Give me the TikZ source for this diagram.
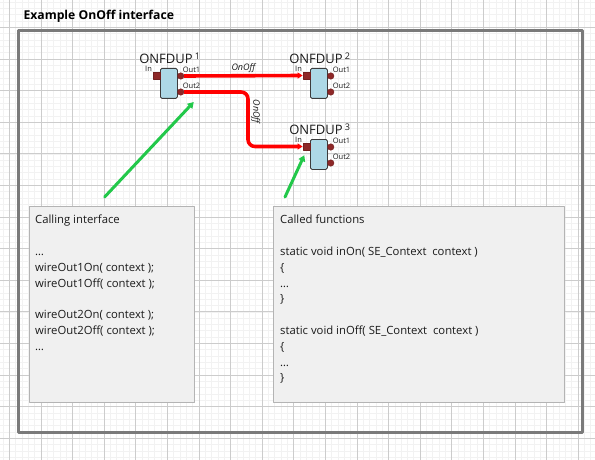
\documentclass[tikz,border=0pt]{standalone}
\usepackage{fontspec}
\setmainfont{Open Sans}
\usepackage{tikz}
\usetikzlibrary{arrows.meta,positioning}
\definecolor{ooGridMinor}{HTML}{F2F2F2}
\definecolor{ooGridMajor}{HTML}{CCCCCC}
\definecolor{ooFrame}{HTML}{7A7A7A}
\definecolor{ooPanel}{HTML}{F0F0F0}
\definecolor{ooPanelLine}{HTML}{B4B4B4}
\definecolor{ooBlock}{HTML}{ADD8E6}
\definecolor{ooBlockLine}{HTML}{3C3C3C}
\definecolor{ooPort}{HTML}{8E2828}
\definecolor{ooWire}{HTML}{FF0000}
\definecolor{ooHint}{HTML}{22C84A}
\definecolor{ooInk}{HTML}{1A1A1A}
\tikzset{
  oo diagram/.style={font=\fontsize{11.3}{15.8}\selectfont, text=ooInk,
    line join=round},
  oo grid minor/.style={draw=ooGridMinor, line width=0.6pt},
  oo grid major/.style={draw=ooGridMajor, line width=0.8pt},
  oo frame/.style={draw=ooFrame, line width=2.8pt, minimum width=564,
    minimum height=402, inner sep=0pt},
  oo title/.style={font=\fontsize{12.2}{14}\selectfont\bfseries, text=black},
  oo panel/.style={draw=ooPanelLine, fill=ooPanel, line width=1.2pt,
    minimum height=196, inner sep=0pt},
  oo panel text/.style={align=left, inner sep=0pt, anchor=north west},
  oo block/.style={draw=ooBlockLine, fill=ooBlock, line width=0.8pt,
    rounded corners=1.5pt, minimum width=17, minimum height=30, inner sep=0pt},
  oo inport/.style={draw=ooPort!80!black, fill=ooPort, line width=0.4pt,
    minimum size=7, inner sep=0pt},
  oo outport/.style={circle, draw=ooPort!80!black, fill=ooPort, line width=0.4pt,
    minimum size=6.5, inner sep=0pt},
  oo port label/.style={font=\fontsize{7.5}{8}\selectfont, inner sep=0.5pt},
  oo name/.style={font=\fontsize{13}{14}\selectfont, anchor=base, inner sep=0.5pt},
  oo wire/.style={-{Triangle[length=5pt,width=6pt]}, draw=ooWire,
    line width=3.6pt, rounded corners=7pt},
  oo wire label/.style={font=\fontsize{9}{10}\selectfont\itshape, inner sep=1.5pt},
  oo hint/.style={-{Triangle[length=6pt,width=7pt]}, draw=ooHint,
    line width=3pt, line cap=round}
}
\begin{document}
\begin{tikzpicture}[oo diagram,x=1pt,y=-1pt]
\useasboundingbox (0,0) rectangle (595,460);
\foreach \i in {0,...,93}
  \draw[oo grid minor] ({2.98+6.32*\i},0) -- ++(0,460);
\foreach \j in {0,...,72}
  \draw[oo grid minor] (0,{2.12+6.32*\j}) -- ++(595,0);
\foreach \i in {0,...,18}
  \draw[oo grid major] ({9.3+31.6*\i},0) -- ++(0,460);
\foreach \j in {0,...,13}
  \draw[oo grid major] (0,{27.4+31.6*\j}) -- ++(595,0);
\node[oo frame,anchor=north west] (frame) at (17,29) {};
\node[oo title,anchor=base west] (title) at ([shift={(3,-9)}]frame.north west) {Example OnOff interface};
\node[oo panel,anchor=north west,minimum width=165] (callbox) at (29,206) {};
\node[oo panel,anchor=north west,minimum width=291] (calledbox) at (273,206) {};
\node[oo panel text] (calltext) at ([shift={(6,9)}]callbox.north west) {Calling interface\\[15.8pt]
…\\
wireOut1On( context );\\
wireOut1Off( context );\\[15.8pt]
wireOut2On( context );\\
wireOut2Off( context );\\
…};
\node[oo panel text] (calledtext) at ([shift={(7,9)}]calledbox.north west) {Called functions\\[15.8pt]
static void inOn( SE\_Context~~context )\\
\{\\
…\\
\}\\[15.8pt]
static void inOff( SE\_Context~~context )\\
\{\\
…\\
\}};
\foreach \n/\x/\y in {1/160/68,2/310/68,3/310/139}{
  \node[oo block,anchor=north west] (b\n) at (\x,\y) {};
  \node[oo inport,left=0pt of b\n.north west,yshift=-7.5pt] (b\n in) {};
  \node[oo outport,right=-0.5pt of b\n.north east,yshift=-8pt] (b\n o1) {};
  \node[oo outport,right=-0.5pt of b\n.north east,yshift=-24pt] (b\n o2) {};
  \node[oo port label,anchor=south east] at (b\n in.north west) {In};
  \node[oo port label,anchor=south west,xshift=-1pt] at (b\n o1.north east) {Out1};
  \node[oo port label,anchor=south west,xshift=-1pt] at (b\n o2.north east) {Out2};
  \node[oo name] at ([xshift=1pt,yshift=4.5pt]b\n.north) {ONFDUP\,\textsuperscript{\n}};
}
\coordinate (turn) at (248,0);
\draw[oo wire] (b1o1.east) -- node[oo wire label,above] {OnOff} (b2in.west);
\draw[oo wire] (b1o2.east) -| node[oo wire label,pos=0.68,rotate=-90,anchor=south] {OnOff} (turn |- b3in) -- (b3in.west);
\coordinate (g1from) at ([shift={(-7.5,-9)}]callbox.north);
\coordinate (g1to) at ([shift={(13,10)}]b1o2.center);
\coordinate (g2from) at ([shift={(12,-9)}]calledbox.north west);
\coordinate (g2to) at ([shift={(-2,5)}]b3in.south);
\draw[oo hint] (g1from) -- (g1to);
\draw[oo hint] (g2from) -- (g2to);
\end{tikzpicture}
\end{document}
